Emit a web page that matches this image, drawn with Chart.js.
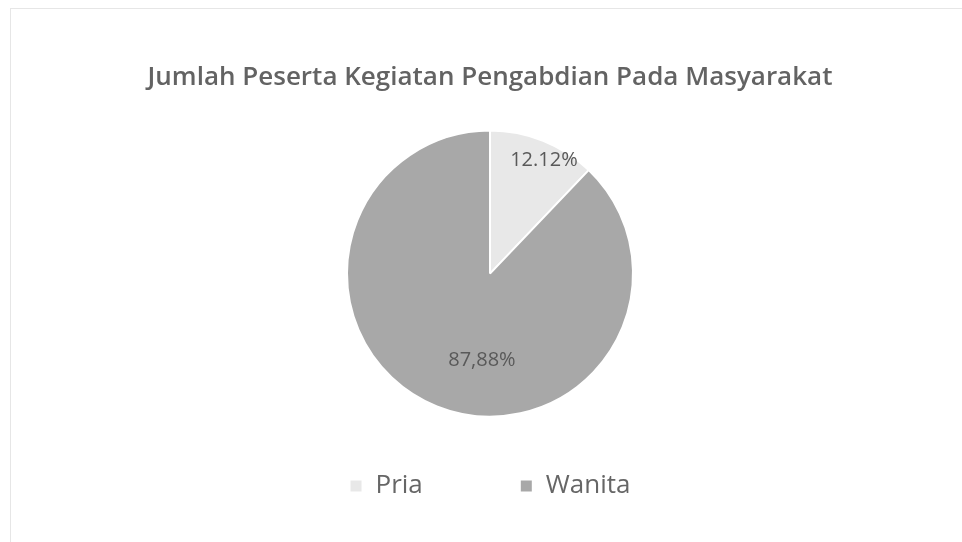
<!DOCTYPE html>
<html>
<head>
<meta charset="utf-8">
<script src="https://cdn.jsdelivr.net/npm/chart.js@4"></script>
<style>
  html, body { margin: 0; padding: 0; background: #ffffff; overflow: hidden; }
  #frame { position: absolute; left: 10px; top: 8px; width: 1000px; height: 600px; border: 1px solid #e6e6e6; }
  #wrap { position: relative; width: 962px; height: 542px; }
</style>
</head>
<body>
<div id="frame"></div>
<div id="wrap"><canvas id="pieCanvas"></canvas></div>
<script>
  // data
  const categories = ['Pria', 'Wanita'];
  const shares = [12.12, 87.88];
  const shareLabels = ['12.12%', '87,88%'];
  const sliceColors = ['#e8e8e8', '#a8a8a8'];

  // draws the percentage text inside each slice
  const sliceLabels = {
    id: 'sliceLabels',
    afterDatasetsDraw(chart, args, opts) {
      const ctx = chart.ctx;
      const arcs = chart.getDatasetMeta(0).data;
      ctx.save();
      ctx.font = opts.font;
      ctx.fillStyle = opts.color;
      ctx.textAlign = 'center';
      ctx.textBaseline = 'middle';
      arcs.forEach((arc, i) => {
        const p = arc.getProps(['x', 'y', 'startAngle', 'endAngle', 'outerRadius'], true);
        const place = opts.place[i];
        const mid = (p.startAngle + p.endAngle) / 2 + place.turn * Math.PI / 180;
        const r = p.outerRadius * place.r;
        ctx.fillText(shareLabels[i], p.x + Math.cos(mid) * r, p.y + Math.sin(mid) * r);
      });
      ctx.restore();
    }
  };

  const ctx = document.getElementById('pieCanvas').getContext('2d');
  new Chart(ctx, {
    type: 'pie',
    data: {
      labels: categories,
      datasets: [{
        data: shares,
        backgroundColor: sliceColors,
        borderColor: '#ffffff',
        borderWidth: 2,
        radius: 143,
        clip: false
      }]
    },
    options: {
      responsive: true,
      maintainAspectRatio: false,
      animation: false,
      layout: { padding: { left: 18, top: 0, right: 0, bottom: 33 } },
      plugins: {
        title: {
          display: true,
          text: 'Jumlah Peserta Kegiatan Pengabdian Pada Masyarakat',
          color: '#636363',
          font: { family: 'Open Sans', size: 26, weight: '600' },
          padding: { top: 62, bottom: 78 }
        },
        legend: {
          position: 'bottom',
          labels: {
            color: '#666666',
            font: { family: 'Open Sans', size: 26 },
            boxWidth: 13,
            boxHeight: 13,
            padding: 97
          }
        },
        tooltip: { enabled: false },
        sliceLabels: {
          font: '20px "Open Sans"',
          color: '#595959',
          place: [{ r: 0.875, turn: 3.7 }, { r: 0.61, turn: -16.5 }]
        }
      }
    },
    plugins: [sliceLabels]
  });
</script>
</body>
</html>
